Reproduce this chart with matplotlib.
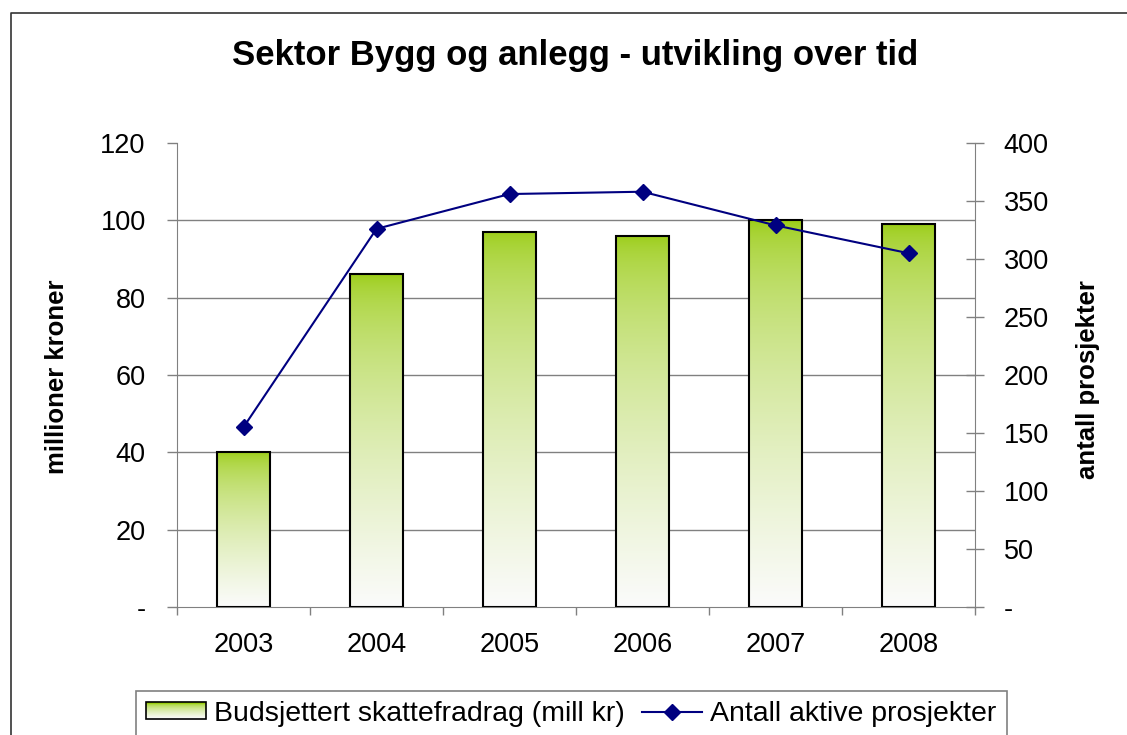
import numpy as np
import matplotlib
matplotlib.use('Agg')
import matplotlib.pyplot as plt
from matplotlib.colors import to_rgb
from matplotlib.patches import Rectangle
from matplotlib.lines import Line2D
from matplotlib.legend_handler import HandlerBase

plt.rcParams['font.family'] = ['Liberation Sans', 'DejaVu Sans']

years = ['2003', '2004', '2005', '2006', '2007', '2008']
budget = [40, 86, 97, 96, 100, 99]          # mill kr
projects = [155, 326, 356, 358, 329, 305]   # active projects

left_ticks = [0, 20, 40, 60, 80, 100, 120]
left_labels = ['-', '20', '40', '60', '80', '100', '120']
right_ticks = [0, 50, 100, 150, 200, 250, 300, 350, 400]
right_labels = ['-', '50', '100', '150', '200', '250', '300', '350', '400']

GREEN = '#99CC11'
FADE = '#FBFBFB'
NAVY = '#000080'
GRAY = '#808080'


def fade(n=256, power=0.55):
    # row 0 = top of bar (green), last row = bottom (near white)
    t = np.linspace(0, 1, n) ** power
    top = np.array(to_rgb(GREEN))
    bot = np.array(to_rgb(FADE))
    return top + (bot - top) * t[:, None]


class GradientHandler(HandlerBase):
    def create_artists(self, legend, orig_handle, xdescent, ydescent,
                       width, height, fontsize, trans):
        cols = fade(16)
        step = height / len(cols)
        arts = []
        for i, c in enumerate(cols):
            arts.append(Rectangle((-xdescent, -ydescent + height - (i + 1) * step),
                                  width, step, facecolor=c, edgecolor='none',
                                  transform=trans))
        arts.append(Rectangle((-xdescent, -ydescent), width, height,
                              facecolor='none', edgecolor='black', lw=1.2,
                              transform=trans))
        return arts


W, H = 1127, 735
fig = plt.figure(figsize=(W / 100, H / 100), dpi=100, facecolor='white')
ax = fig.add_axes([177 / W, 1 - 607 / H, (975 - 177) / W, (607 - 143) / H])
ax2 = ax.twinx()

x = np.arange(len(years))

# grid lines (left axis), none at top
for v in left_ticks[1:-1]:
    ax.axhline(v, color=GRAY, lw=1, zorder=1)

bars = ax.bar(x, budget, width=0.40, facecolor='none', edgecolor='black',
              lw=1.5, zorder=3)
grad = fade()[:, None, :]
for b in bars:
    ax.imshow(grad, extent=[b.get_x(), b.get_x() + b.get_width(), 0, b.get_height()],
              aspect='auto', zorder=2, interpolation='bilinear')

ax.set_xlim(-0.5, len(years) - 0.5)
ax.set_ylim(0, 120)
ax.set_yticks(left_ticks)
ax.set_yticklabels(left_labels)
ax.set_xticks(x)
ax.set_xticklabels(years)
ax.set_xticks(np.arange(len(years) + 1) - 0.5, minor=True)
ax.tick_params(axis='x', which='major', length=0, pad=18, labelsize=19.5)
ax.tick_params(axis='x', which='minor', length=5.5, width=1, color=GRAY, direction='out')
ax.tick_params(axis='y', length=7.5, width=1, color=GRAY, direction='out',
               pad=15, labelsize=19.5)

ax2.plot(x, projects, color=NAVY, lw=1.5, marker='D', ms=8, zorder=4)
ax2.set_ylim(0, 400)
ax2.set_yticks(right_ticks)
ax2.set_yticklabels(right_labels)
ax2.tick_params(axis='y', length=13, width=1, color=GRAY, direction='inout',
                pad=14, labelsize=19.5)

for a in (ax, ax2):
    a.spines['top'].set_visible(False)
ax.spines['right'].set_visible(False)
ax2.spines['left'].set_visible(False)
ax2.spines['bottom'].set_visible(False)
ax.spines['left'].set_color(GRAY)
ax.spines['bottom'].set_color(GRAY)
ax2.spines['right'].set_color(GRAY)

fig.text(575 / W, 1 - 56 / H, 'Sektor Bygg og anlegg - utvikling over tid',
         ha='center', va='center', fontsize=25, fontweight='bold')
fig.text(57 / W, 1 - 377 / H, 'millioner kroner', rotation=90,
         ha='center', va='center', fontsize=18.5, fontweight='bold')
fig.text(1088 / W, 1 - 380 / H, 'antall prosjekter', rotation=90,
         ha='center', va='center', fontsize=18.5, fontweight='bold')

# outer chart frame (top and left edges visible)
fig.add_artist(Line2D([10.5 / W, 10.5 / W, 1.0], [0.0, 1 - 12.5 / H, 1 - 12.5 / H],
                      transform=fig.transFigure, color='#333333', lw=1.2))

bar_handle = Rectangle((0, 0), 1, 1)
line_handle = Line2D([], [], color=NAVY, lw=1.5, marker='D', ms=8)
leg = fig.legend([bar_handle, line_handle],
                 ['Budsjettert skattefradrag (mill kr)', 'Antall aktive prosjekter'],
                 handler_map={Rectangle: GradientHandler()},
                 loc='upper left', bbox_to_anchor=(136 / W, 1 - 691 / H),
                 ncol=2, fontsize=20.5, frameon=True, fancybox=False,
                 edgecolor=GRAY, framealpha=1, borderaxespad=0, borderpad=0.35,
                 handlelength=2.1, handleheight=0.53, handletextpad=0.3,
                 columnspacing=0.6)
leg.get_frame().set_linewidth(1.2)

fig.savefig('out.png', dpi=100, facecolor='white')
